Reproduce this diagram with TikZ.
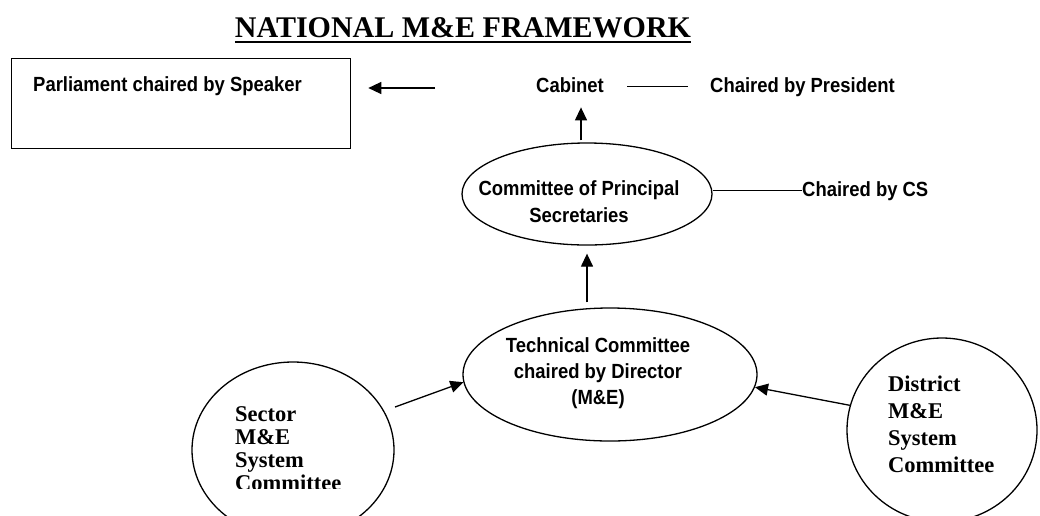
\documentclass[tikz,border=0pt]{standalone}
\usepackage{fontspec}
\setmainfont{Liberation Serif}
\newfontfamily\sansn{Liberation Sans}[FakeStretch=0.9]
\usetikzlibrary{shapes.geometric,arrows.meta,calc}
\tikzset{
  sanslbl/.style={font=\sansn\bfseries\fontsize{20.5}{26.5}\selectfont, inner sep=0pt},
  serlbl/.style={font=\bfseries\fontsize{22.5}{22.7}\selectfont, inner sep=0pt, align=left},
  bubble/.style={draw, ellipse, line width=1.3pt, inner sep=0pt},
  arr/.style={-{Triangle[length=13pt,width=12pt]}, line width=1.3pt},
  plain/.style={line width=1.3pt}
}
\begin{document}
\begin{tikzpicture}[x=1pt,y=-1pt]
\fill[white] (0,0) rectangle (1040,515);
\useasboundingbox (0,0) rectangle (1040,515);

% title
\node[font=\bfseries\fontsize{30}{34}\selectfont, inner sep=0pt, anchor=base] (title) at (463,37) {NATIONAL M\&E FRAMEWORK};
\draw[line width=2pt] ($(title.base west)+(0,5)$) -- ($(title.base east)+(0,5)$);

% parliament box
\node[draw, line width=1.3pt, minimum width=339pt, minimum height=90pt, anchor=north west, inner sep=0pt] (parl) at (11,58) {};
\node[sanslbl, anchor=base west] (parltext) at (33,91) {Parliament chaired by Speaker};

% cabinet
\node[sanslbl, anchor=base west] (cab) at (536,92) {Cabinet};
\node[sanslbl, anchor=base west] (pres) at (710,92) {Chaired by President};
\draw[plain, shorten <=23pt, shorten >=22pt] ([yshift=-1.5pt]cab.east) -- ([yshift=-1.5pt]cab.east -| pres.west);

\coordinate (la) at (435,88);
\draw[arr, shorten >=17pt] (la) -- (la -| parl.east);

% principal secretaries
\node[bubble, minimum width=250pt, minimum height=102pt] (prin) at (587,194) {};
\node[sanslbl, align=center, anchor=base, font=\sansn\bfseries\fontsize{20.5}{27}\selectfont] (printext) at (579,222) {Committee of Principal\\Secretaries};
\node[sanslbl, anchor=base west] (cs) at (802,196) {Chaired by CS};
\draw[plain] (prin.east |- cs.west) -- (cs.west);
\draw[arr, shorten <=2pt, shorten >=15pt] ([xshift=-6pt]prin.north) -- ([xshift=-6pt]prin.north |- cab.south);

% technical committee
\node[bubble, minimum width=294pt, minimum height=133pt] (tech) at (610,374.5) {};
\node[sanslbl, align=center, anchor=base, font=\sansn\bfseries\fontsize{20.5}{26}\selectfont] (techtext) at (598,404) {Technical Committee\\chaired by Director\\(M\&E)\hspace{38pt}};
\draw[arr, shorten <=5pt, shorten >=8pt] (tech.north -| prin.south) -- (prin.south);

% sector
\node[bubble, minimum width=202pt, minimum height=176pt] (sector) at (293,450) {};
\begin{scope}
\clip (0,0) rectangle (1040,488);
\node[serlbl, anchor=base west] (sectortext) at (235,490) {Sector\\M\&E\\System\\Committee};
\end{scope}
\coordinate (sa) at (395,407);
\draw[arr] (sa) -- (tech.183);

% district
\node[bubble, minimum width=190pt, minimum height=184pt] (dist) at (942,430) {};
\node[serlbl, anchor=base west, font=\bfseries\fontsize{22.5}{26.7}\selectfont] (disttext) at (888,472) {District\\M\&E\\System\\Committee};
\draw[arr] (dist.165) -- (tech.355);
\end{tikzpicture}
\end{document}
